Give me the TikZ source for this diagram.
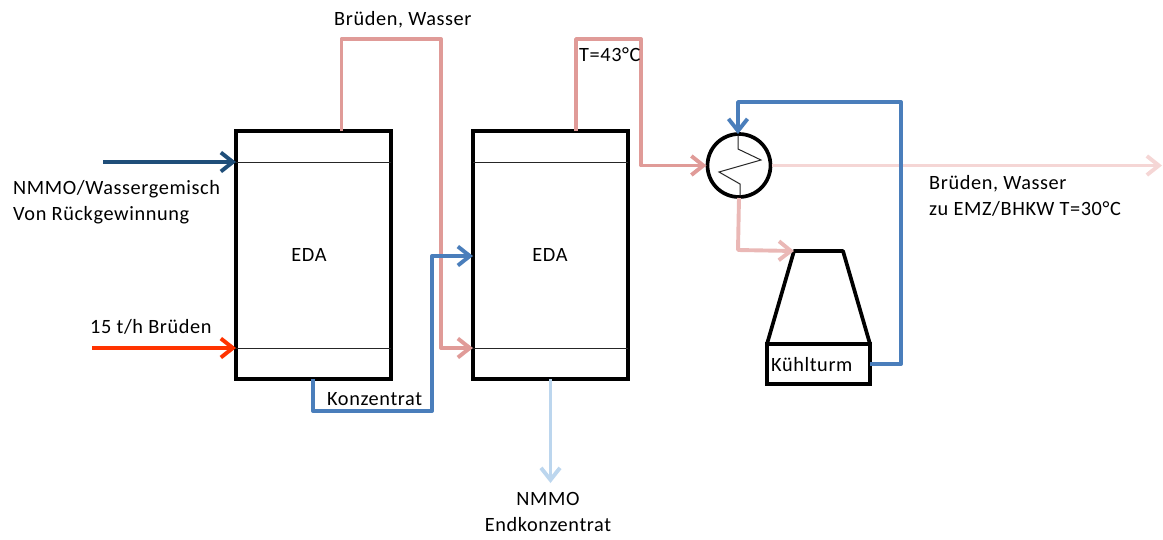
\documentclass[tikz,border=0pt]{standalone}
\usepackage{fontspec}
\setmainfont[LetterSpace=3]{Carlito}
\usepackage{xcolor}
\usetikzlibrary{arrows.meta, positioning}
\definecolor{stream-vapour}{RGB}{224,155,152}
\definecolor{stream-return}{RGB}{234,184,182}
\definecolor{stream-off}{RGB}{245,214,213}
\definecolor{stream-cool}{RGB}{74,126,187}
\definecolor{stream-feed}{RGB}{31,78,121}
\definecolor{stream-steam}{RGB}{255,51,0}
\definecolor{stream-final}{RGB}{188,214,238}

\begin{document}
\begin{tikzpicture}[
    x=1pt, y=-1pt,
    eda/.style={rectangle, draw=black, line width=3.7pt, fill=white,
                minimum width=155pt, minimum height=248pt,
                inner sep=0pt, outer sep=0pt},
    cooler/.style={circle, draw=black, line width=3.7pt, fill=white,
                minimum size=63pt, inner sep=0pt, outer sep=1pt},
    basin/.style={rectangle, draw=black, line width=3.7pt, fill=white,
                minimum width=103pt, minimum height=40pt,
                inner sep=0pt, outer sep=0pt},
    lbl/.style={inner sep=0pt, align=left, font=\fontsize{20.3}{26}\selectfont},
    arr/.style={-{Straight Barb[length=12pt, width=19pt, line width=3.9pt]},
                line width=3.9pt, line join=round},
    thinline/.style={line width=1pt, black!85},
]
\useasboundingbox (0,0) rectangle (1163,539);

% off-gas line passes under the cooling water
\node[cooler] (hx) at (739,165.5) {};
\coordinate (off) at (1162,165.5);
\draw[arr, stream-off] (hx) -- (off);

\node[eda] (eda1) at (313.5,255) {};
\node[eda] (eda2) at (550.5,255) {};
\node[basin] (basin) at (818.5,364) {};
\node[lbl] (name1) at (309,255) {EDA};
\node[lbl] (name2) at (550,255) {EDA};
\node[lbl, anchor=west] (kt) at (771,365) {Kühlturm};
\coordinate (towerl) at (794,251);
\coordinate (towerr) at (843,251);
\draw[line width=3.7pt, line join=round] (basin.north west) -- (towerl) -- (towerr) -- (basin.north east);

% feeds
\coordinate (feedstart) at (103,162);
\coordinate (steamstart) at (92,348);
\coordinate (concin) at (432,256);
\draw[arr, stream-feed] (feedstart) -- (feedstart -| eda1.west);
\draw[arr, stream-steam] (steamstart) -- (steamstart -| eda1.west);

% trays
\draw[thinline] (eda1.west |- feedstart) -- (eda1.east |- feedstart);
\draw[thinline] (eda1.west |- steamstart) -- (eda1.east |- steamstart);
\draw[thinline] (eda2.west |- feedstart) -- (eda2.east |- feedstart);
\draw[thinline] (eda2.west |- steamstart) -- (eda2.east |- steamstart);

% vapour
\coordinate (vap1) at (341.5,131);
\coordinate (vap2) at (576,131);
\draw[arr, stream-vapour] (vap1) -- (341.5,39) -- (441,39) -- (441,348) -- (eda2.west |- steamstart);
\draw[arr, stream-vapour] (vap2) -- (576,39) -- (641,39) -- (641,165.5) -- (hx.west);

% concentrate
\coordinate (conc) at (313,379);
\draw[arr, stream-cool] (conc) -- (313,411) -- (432,411) -- (concin) -- (concin -| eda2.west);
\coordinate (final) at (550.5,379);
\coordinate (finalend) at (550.5,483);
\draw[arr, stream-final] (final) -- (finalend);

% cooling circuit
\draw[arr, stream-cool] (basin.east) -- (901,364) -- (901,102) -- (738,102) -- (738,134);
\draw[arr, stream-return] (hx.south) -- (738,250) -- (towerl);

% coil
\draw[thinline] (738,135) -- (738,149) -- (761,160) -- (719,172) -- (740,184) -- (740,196);

\node[lbl, anchor=west] (l1) at (334,20) {Brüden, Wasser};
\node[lbl, anchor=west] (l2) at (579,55) {T=43°C};
\node[lbl, anchor=west] (l3) at (13,202) {NMMO/Wassergemisch\\Von Rückgewinnung};
\node[lbl, anchor=west] (l4) at (90,327) {15 t/h Brüden};
\node[lbl, anchor=west] (l5) at (327,399) {Konzentrat};
\node[lbl, anchor=west] (l6) at (929,196) {Brüden, Wasser\\zu EMZ/BHKW T=30°C};
\node[lbl, align=center] (l7) at (548,512) {NMMO\\Endkonzentrat};
\end{tikzpicture}
\end{document}
